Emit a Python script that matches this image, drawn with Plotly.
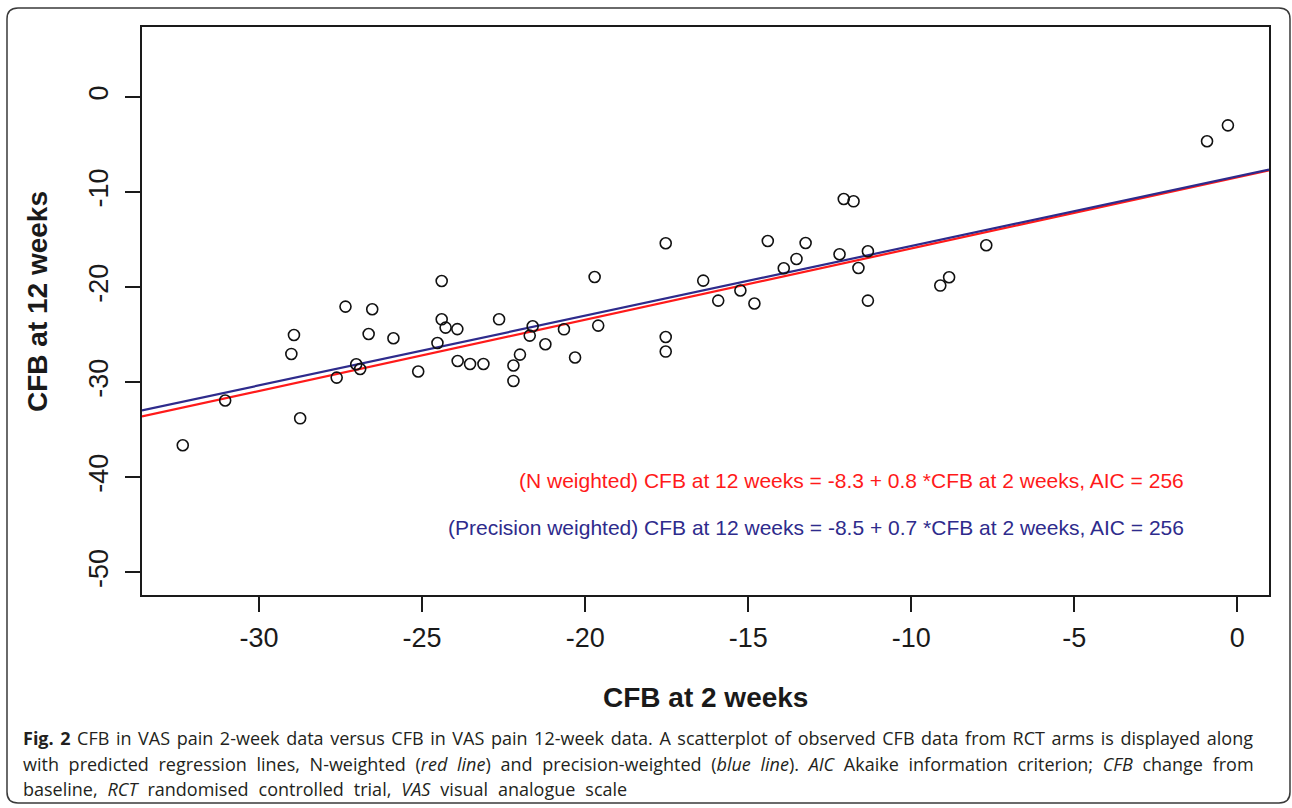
import plotly.graph_objects as go

# ---- data ----
cfb_2wk = [-32.34, -31.04, -29.01, -28.93, -28.74, -27.62, -27.35, -27.02, -26.90, -26.64,
           -26.53, -25.88, -25.12, -24.53, -24.40, -24.40, -24.28, -23.92, -23.91, -23.53,
           -23.12, -22.64, -22.20, -22.20, -22.00, -21.61, -21.70, -21.22, -20.65, -20.31,
           -19.71, -19.60, -17.53, -17.53, -17.53, -16.38, -15.92, -15.24, -14.81, -14.40,
           -13.91, -13.52, -13.24, -12.20, -12.07, -11.77, -11.62, -11.33, -11.33, -9.11,
           -8.84, -7.70, -0.93, -0.29]
cfb_12wk = [-36.62, -31.92, -27.02, -25.03, -33.79, -29.51, -22.04, -28.11, -28.60, -24.92,
            -22.32, -25.37, -28.87, -25.87, -19.35, -23.38, -24.25, -24.41, -27.76, -28.08,
            -28.08, -23.38, -28.24, -29.86, -27.09, -24.11, -25.09, -26.00, -24.43, -27.40,
            -18.93, -24.04, -15.38, -25.24, -26.77, -19.31, -21.41, -20.35, -21.72, -15.14,
            -18.01, -17.03, -15.35, -16.54, -10.73, -10.97, -17.98, -16.22, -21.41, -19.83,
            -18.96, -15.59, -4.66, -2.98]

# regression lines (intercept, slope) as drawn
line_names = ["N weighted", "Precision weighted"]
line_intercepts = [-8.44, -8.34]
line_slopes = [0.749, 0.733]
line_colors = ["#FF1A1A", "#2E2B8C"]
line_labels = [
    "(N weighted) CFB at 12 weeks = -8.3 + 0.8 *CFB at 2 weeks, AIC = 256",
    "(Precision weighted) CFB at 12 weeks = -8.5 + 0.7 *CFB at 2 weeks, AIC = 256",
]

x_ticks = [-30, -25, -20, -15, -10, -5, 0]
y_ticks = [0, -10, -20, -30, -40, -50]
x_range = [-33.59, 0.97]
y_range = [-52.37, 7.36]

x_title = "CFB at 2 weeks"
y_title = "CFB at 12 weeks"
caption_lines = [
    "<b>Fig. 2</b> CFB in VAS pain 2-week data versus CFB in VAS pain 12-week data. A scatterplot of observed CFB data from RCT arms is displayed along",
    "with predicted regression lines, N-weighted (<i>red line</i>) and precision-weighted (<i>blue line</i>). <i>AIC</i> Akaike information criterion; <i>CFB</i> change from",
    "baseline, <i>RCT</i> randomised controlled trial, <i>VAS</i> visual analogue scale",
]
caption_word_spacing = [1.9, 5.0, 5.3]

# ---- layout geometry (pixels) ----
W, H = 1292, 808
L, R, T, B = 142, 1269, 27, 595
PW, PH = R - L, B - T


def xp(px):
    return (px - L) / PW


def yp(py):
    return (B - py) / PH


fig = go.Figure()

for name, b0, b1, col in zip(line_names, line_intercepts, line_slopes, line_colors):
    xs = x_range
    ys = [b0 + b1 * v for v in xs]
    fig.add_trace(go.Scatter(x=xs, y=ys, mode="lines", name=name,
                             line=dict(color=col, width=2.2), hoverinfo="skip"))

fig.add_trace(go.Scatter(
    x=cfb_2wk, y=cfb_12wk, mode="markers", name="RCT arms",
    marker=dict(symbol="circle-open", size=11, color="#111111", line=dict(width=1.6, color="#111111")),
))

axis_common = dict(
    showline=True, mirror=True, linecolor="#1a1a1a", linewidth=2,
    ticks="outside", ticklen=15, tickwidth=2, tickcolor="#1a1a1a",
    showgrid=False, zeroline=False,
    tickfont=dict(family="Liberation Sans, Arial, sans-serif", size=27, color="#1a1a1a"),
)

fig.update_xaxes(range=x_range, tickvals=x_ticks, ticktext=[str(v) for v in x_ticks],
                 ticklabelstandoff=3, **axis_common)
fig.update_yaxes(range=y_range, tickvals=y_ticks, ticktext=[str(v) for v in y_ticks],
                 tickangle=-90, ticklabelstandoff=6, **axis_common)

annotations = []
for label, col, cy in zip(line_labels, line_colors, [481, 527]):
    annotations.append(dict(
        x=xp(1186), y=yp(cy), xref="paper", yref="paper", xanchor="right", yanchor="middle",
        text=label, showarrow=False,
        font=dict(family="Liberation Sans, Arial, sans-serif", size=21, color=col),
    ))

annotations.append(dict(
    x=xp(705), y=yp(697), xref="paper", yref="paper", xanchor="center", yanchor="middle",
    text="<b>" + x_title + "</b>", showarrow=False,
    font=dict(family="Liberation Sans, Arial, sans-serif", size=28, color="#1a1a1a"),
))
annotations.append(dict(
    x=xp(37), y=yp(302), xref="paper", yref="paper", xanchor="center", yanchor="middle",
    text="<b>" + y_title + "</b>", showarrow=False, textangle=-90,
    font=dict(family="Liberation Sans, Arial, sans-serif", size=28, color="#1a1a1a"),
))

for line, ws, cy in zip(caption_lines, caption_word_spacing, [738, 764, 789]):
    annotations.append(dict(
        x=xp(21), y=yp(cy), xref="paper", yref="paper", xanchor="left", yanchor="middle",
        text=f'<span style="word-spacing:{ws}px">' + line + "</span>", showarrow=False, align="left",
        font=dict(family="Open Sans, sans-serif", size=18, color="#231F20"),
    ))

# rounded outer frame
bx0, bx1, by0, by1, rr = 7, 1290, 8, 803, 11


def pt(px, py):
    return f"{xp(px):.5f},{yp(py):.5f}"


frame_path = (
    f"M {pt(bx0 + rr, by0)} L {pt(bx1 - rr, by0)} Q {pt(bx1, by0)} {pt(bx1, by0 + rr)} "
    f"L {pt(bx1, by1 - rr)} Q {pt(bx1, by1)} {pt(bx1 - rr, by1)} "
    f"L {pt(bx0 + rr, by1)} Q {pt(bx0, by1)} {pt(bx0, by1 - rr)} "
    f"L {pt(bx0, by0 + rr)} Q {pt(bx0, by0)} {pt(bx0 + rr, by0)} Z"
)

fig.update_layout(
    width=W, height=H,
    margin=dict(l=L, r=W - R, t=T, b=H - B, pad=0),
    paper_bgcolor="white", plot_bgcolor="white",
    showlegend=False,
    annotations=annotations,
    shapes=[dict(type="path", path=frame_path, xref="paper", yref="paper",
                 line=dict(color="#3a3a3a", width=1.5), layer="below")],
)

fig.write_html("out.html", config={"displayModeBar": False},
               post_script="document.body.style.margin='0';document.body.style.overflow='hidden';")
